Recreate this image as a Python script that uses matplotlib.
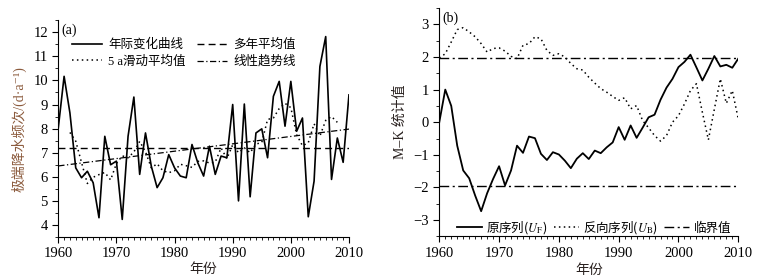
import matplotlib
matplotlib.use('Agg')
import matplotlib.pyplot as plt
from matplotlib.ticker import MultipleLocator

plt.rcParams['font.family'] = ['Liberation Serif', 'Noto Sans CJK SC', 'DejaVu Serif']
plt.rcParams['mathtext.fontset'] = 'stix'
plt.rcParams['axes.unicode_minus'] = True

years = list(range(1960, 2011))

# (a) 极端降水频次
freq = [8.03, 10.17, 8.65, 6.37, 5.96, 6.23, 5.75, 4.30, 7.68, 6.50,
        6.65, 4.23, 7.68, 9.31, 6.10, 7.82, 6.44, 5.55, 5.96, 6.92,
        6.37, 6.03, 5.96, 7.34, 6.58, 6.03, 7.27, 6.10, 6.86, 6.79,
        9.00, 5.00, 9.02, 5.17, 7.82, 7.99, 6.79, 9.34, 9.96, 8.10,
        9.96, 7.89, 8.44, 4.34, 5.82, 10.58, 11.82, 5.89, 7.61, 6.60,
        9.40]
ma_years = list(range(1962, 2009))
ma5 = [7.84, 7.48, 6.59, 5.72, 5.98, 6.09, 6.18, 5.87, 6.55, 6.87,
       6.79, 7.03, 7.47, 7.04, 6.37, 6.54, 6.25, 6.17, 6.25, 6.52,
       6.46, 6.39, 6.64, 6.66, 6.57, 6.61, 7.20, 6.75, 7.33, 7.00,
       7.20, 7.00, 7.36, 7.42, 8.38, 8.44, 8.83, 9.05, 8.87, 7.75,
       7.29, 7.41, 8.20, 7.69, 8.34, 8.50, 8.26]
mean_val = 7.2
trend_years = [1960, 2010]
trend_vals = [6.45, 7.98]

# (b) M-K
uf = [0.0, 1.0, 0.5, -0.72, -1.48, -1.72, -2.25, -2.73, -2.18, -1.74,
      -1.35, -1.94, -1.48, -0.72, -0.94, -0.44, -0.49, -0.97, -1.16, -0.92,
      -0.99, -1.18, -1.41, -1.12, -0.95, -1.13, -0.87, -0.95, -0.77, -0.62,
      -0.15, -0.54, -0.10, -0.48, -0.17, 0.15, 0.23, 0.69, 1.06, 1.33,
      1.69, 1.85, 2.07, 1.68, 1.28, 1.64, 2.03, 1.71, 1.76, 1.67,
      1.95]
ub = [1.97, 2.10, 2.46, 2.84, 2.90, 2.77, 2.62, 2.41, 2.15, 2.26,
      2.28, 2.18, 2.02, 1.95, 2.36, 2.41, 2.62, 2.56, 2.20, 2.05,
      2.10, 2.00, 1.80, 1.64, 1.60, 1.38, 1.20, 1.03, 0.92, 0.79,
      0.67, 0.75, 0.41, 0.51, 0.05, -0.17, -0.41, -0.58, -0.41, 0.0,
      0.20, 0.56, 0.97, 1.18, 0.30, -0.54, 0.40, 1.33, 0.58, 0.97,
      0.10]
crit = 1.96

fig = plt.figure(figsize=(7.7, 2.79), dpi=100)
ax1 = fig.add_axes([0.0757, 0.1505, 0.3775, 0.7771])
ax2 = fig.add_axes([0.5705, 0.153, 0.3883, 0.818])

ax1.plot(years, freq, color='black', lw=1.2, label='年际变化曲线')
ax1.plot(ma_years, ma5, color='black', lw=1.1, ls=(0, (1, 2.2)), label='5 a滑动平均值')
ax1.axhline(mean_val, color='black', lw=1.0, ls=(0, (5, 3)), label='多年平均值')
ax1.plot(trend_years, trend_vals, color='black', lw=0.9, ls=(0, (5, 2, 1, 2)), label='线性趋势线')
ax1.set_xlim(1960, 2010)
ax1.set_ylim(3.5, 12.5)
ax1.set_yticks(range(4, 13))
ax1.set_xticks(range(1960, 2011, 10))
ax1.yaxis.set_minor_locator(MultipleLocator(0.5))
ax1.set_ylabel('极端降水频次/(d·a⁻¹)', color='#8b5a3c', fontsize=10)
ax1.yaxis.set_label_coords(-0.108, 0.5)
ax1.legend(ncol=2, frameon=False,
           loc='upper left', bbox_to_anchor=(0.047, 0.915), borderpad=0, borderaxespad=0,
           fontsize=9, handlelength=2.4, labelspacing=0.35, columnspacing=0.9, handletextpad=0.5)
ax1.text(0.012, 0.985, '(a)', transform=ax1.transAxes, ha='left', va='top', fontsize=10)

ax2.plot(years, uf, color='black', lw=1.3, label='原序列($U_\\mathrm{F}$)')
ax2.plot(years, ub, color='black', lw=1.1, ls=(0, (1, 2.2)), label='反向序列($U_\\mathrm{B}$)')
ax2.axhline(crit, color='black', lw=1.0, ls=(0, (7, 2.5, 1.5, 2.5)), label='临界值')
ax2.axhline(-crit, color='black', lw=1.0, ls=(0, (7, 2.5, 1.5, 2.5)))
ax2.set_xlim(1960, 2010)
ax2.set_ylim(-3.5, 3.5)
ax2.set_yticks(range(-3, 4))
ax2.set_xticks(range(1960, 2011, 10))
ax2.yaxis.set_minor_locator(MultipleLocator(0.5))
ax2.set_ylabel('M–K 统计值', fontsize=10, color='#2a2220')
ax2.yaxis.set_label_coords(-0.108, 0.5)
ax2.legend(ncol=3, frameon=False, loc='lower left', bbox_to_anchor=(0.058, 0.0),
           borderpad=0, borderaxespad=0, handlelength=2.0,
           prop={'family': 'Noto Sans CJK SC', 'size': 9},
           columnspacing=0.5, handletextpad=0.35)
ax2.text(0.012, 0.985, '(b)', transform=ax2.transAxes, ha='left', va='top', fontsize=10)

for ax in (ax1, ax2):
    ax.spines['top'].set_visible(False)
    ax.spines['right'].set_visible(False)
    ax.xaxis.set_minor_locator(MultipleLocator(1))
    ax.tick_params(which='major', direction='out', length=4, width=0.8, labelsize=10.5)
    ax.tick_params(which='minor', direction='out', length=2, width=0.6)
    ax.set_xlabel('年份', fontsize=10, color='#2a2220', va='center')

ax1.xaxis.set_label_coords(0.5, -0.152)
ax2.xaxis.set_label_coords(0.5, -0.148)

fig.savefig('out.png', dpi=100)
